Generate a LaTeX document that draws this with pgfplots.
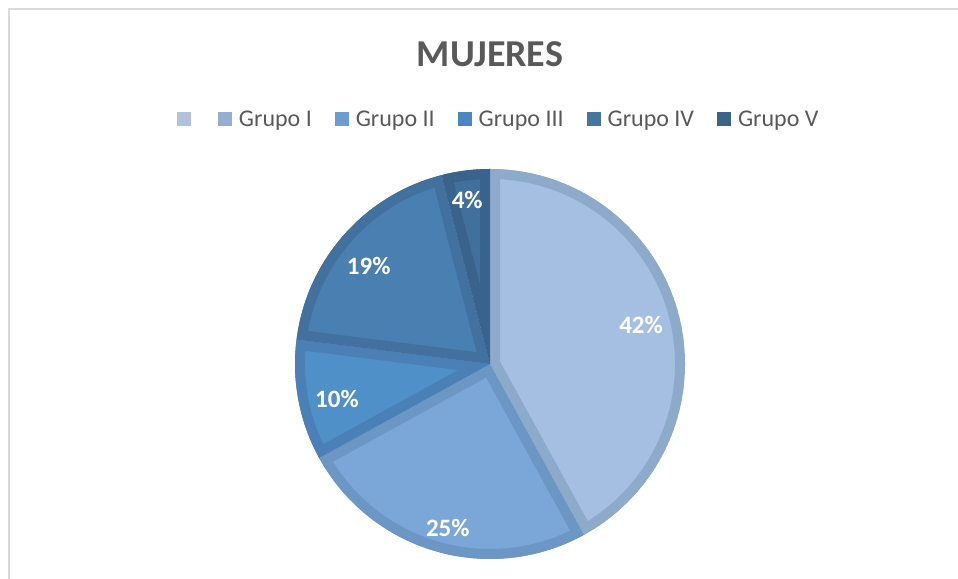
\documentclass[border=0pt]{standalone}
\usepackage{fontspec}
\setmainfont{Carlito}
\usepackage{pgfplots}
\usepackage{pgfplotstable}
\pgfplotsset{compat=1.18}

\definecolor{titlegray}{HTML}{595959}
\definecolor{framegray}{HTML}{D9D9D9}
% slice fills and borders
\definecolor{gIf}{HTML}{A5BFE3}
\definecolor{gIb}{HTML}{8EAACB}
\definecolor{gIIf}{HTML}{7AA6D8}
\definecolor{gIIb}{HTML}{6C96C4}
\definecolor{gIIIf}{HTML}{4F90C9}
\definecolor{gIIIb}{HTML}{4A80B6}
\definecolor{gIVf}{HTML}{4A7FB1}
\definecolor{gIVb}{HTML}{42719F}
\definecolor{gVf}{HTML}{42709C}
\definecolor{gVb}{HTML}{39638C}
% legend markers
\definecolor{lblank}{HTML}{B0C3DB}
\definecolor{lI}{HTML}{93AED0}
\definecolor{lII}{HTML}{6E9BD0}
\definecolor{lIII}{HTML}{4A86C0}
\definecolor{lIV}{HTML}{45769F}
\definecolor{lV}{HTML}{3C6388}

\pgfplotstableread{
grupo value fillc borderc labr laba
1 42 gIf gIb 0.80 0
2 25 gIIf gIIb 0.87 1.8
3 10 gIIIf gIIIb 0.805 2.1
4 19 gIVf gIVb 0.80 2.4
5 4 gVf gVb 0.85 0.7
}\piedata
\pgfplotstablecreatecol[expr accum={\pgfmathaccuma+\thisrow{value}}{0}]{cum}\piedata

\begin{document}
\begin{tikzpicture}[x=1bp,y=1bp]
\path[use as bounding box] (0,0) rectangle (958,579);
\begin{scope}
\clip (0,0) rectangle (958,579);
\draw[framegray, line width=1.8bp] (9,-10) -- (9,570) -- (980,570);
\end{scope}
\node[anchor=base, inner sep=0pt, text=titlegray, font=\fontsize{38bp}{44bp}\selectfont\bfseries] at (490,512) {MUJERES};
\begin{axis}[
  at={(490bp,215bp)}, anchor=center,
  scale only axis, width=390bp, height=390bp,
  xmin=-1, xmax=1, ymin=-1, ymax=1,
  hide axis, clip=false,
  legend image code/.code={\fill[#1, draw=none] (0bp,-7bp) rectangle (14bp,7bp);},
  legend columns=-1,
  legend style={
    at={(axis description cs:-0.3026,1.128)}, anchor=west,
    draw=none, fill=none, inner sep=0pt, outer sep=0pt,
    column sep=0pt,
    /tikz/every odd column/.style={column sep=5bp},
    /tikz/every even column/.style={column sep=21bp},
    cells={inner sep=0pt, anchor=west},
    font=\fontsize{24bp}{28bp}\selectfont, text=titlegray,
  },
]
\addlegendimage{fill=lblank}\addlegendentry{\hspace*{-5bp}}
\addlegendimage{fill=lI}\addlegendentry{Grupo I}
\addlegendimage{fill=lII}\addlegendentry{Grupo II}
\addlegendimage{fill=lIII}\addlegendentry{Grupo III}
\addlegendimage{fill=lIV}\addlegendentry{Grupo IV}
\addlegendimage{fill=lV}\addlegendentry{Grupo V}
\pgfplotsextra{
  \pgfplotstablegetrowsof{\piedata}
  \pgfmathtruncatemacro{\lastrow}{\pgfplotsretval-1}
  \foreach \i in {0,...,\lastrow}{
    \pgfplotstablegetelem{\i}{value}\of\piedata \let\sval\pgfplotsretval
    \pgfplotstablegetelem{\i}{cum}\of\piedata \let\scum\pgfplotsretval
    \pgfplotstablegetelem{\i}{fillc}\of\piedata \let\sfc\pgfplotsretval
    \pgfplotstablegetelem{\i}{borderc}\of\piedata \let\sbc\pgfplotsretval
    \pgfplotstablegetelem{\i}{labr}\of\piedata \let\slr\pgfplotsretval
    \pgfplotstablegetelem{\i}{laba}\of\piedata \let\sla\pgfplotsretval
    \pgfmathsetmacro{\angA}{90-3.6*(\scum-\sval)}
    \pgfmathsetmacro{\angB}{90-3.6*\scum}
    \pgfmathsetmacro{\angM}{(\angA+\angB)/2+\sla}
    \begin{scope}
      \clip (axis cs:0,0) -- (axis cs:{cos(\angA)},{sin(\angA)}) arc[start angle=\angA, end angle=\angB, radius=195bp] -- cycle;
      \fill[fill=\sfc] (axis cs:0,0) -- (axis cs:{cos(\angA)},{sin(\angA)}) arc[start angle=\angA, end angle=\angB, radius=195bp] -- cycle;
      \draw[draw=\sbc, line width=20bp, line join=miter] (axis cs:0,0) -- (axis cs:{cos(\angA)},{sin(\angA)}) arc[start angle=\angA, end angle=\angB, radius=195bp] -- cycle;
    \end{scope}
    \node[text=white, font=\fontsize{25bp}{30bp}\selectfont\bfseries] at (axis cs:{\slr*cos(\angM)},{\slr*sin(\angM)}) {\sval\%};
  }
}
\end{axis}
\end{tikzpicture}
\end{document}
